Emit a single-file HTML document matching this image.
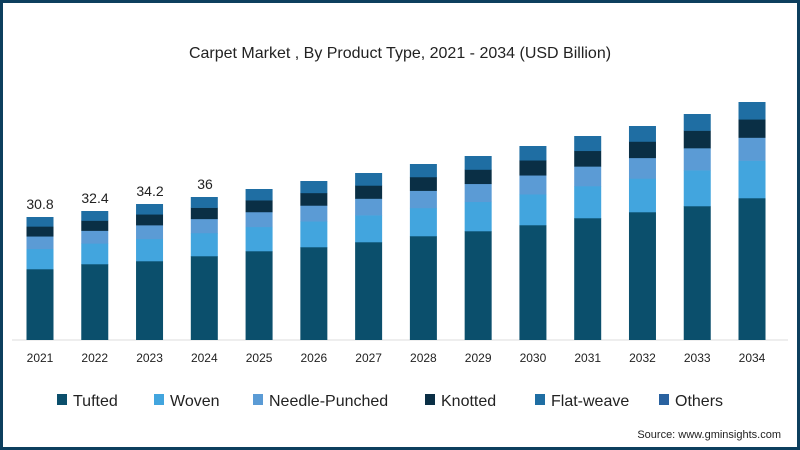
<!DOCTYPE html>
<html><head><meta charset="utf-8"><style>
body{margin:0;background:#fff}
#c{position:relative;width:800px;height:450px;box-sizing:border-box;border:3px solid #0d3f5e;overflow:hidden;font-family:"Liberation Sans",sans-serif}
</style></head><body><div id="c">
<svg width="800" height="450" style="position:absolute;left:-3px;top:-3px" font-family="Liberation Sans, sans-serif">
<text x="400" y="58" text-anchor="middle" font-size="16" fill="#222">Carpet Market , By Product Type, 2021 - 2034 (USD Billion)</text>
<line x1="12" y1="340" x2="788" y2="340" stroke="#ddd" stroke-width="1"/>
<g id="bars"></g>
<g font-size="12" fill="#222" text-anchor="middle" id="yrs"></g>
<g font-size="14" fill="#222" text-anchor="middle">
<text x="40" y="209">30.8</text><text x="95" y="203">32.4</text><text x="150" y="196">34.2</text><text x="205" y="189">36</text>
</g>
<g font-size="16" fill="#222">
<rect x="57" y="394" width="10" height="11" fill="#0b4f6c"/><text x="73" y="406">Tufted</text>
<rect x="154" y="394" width="10" height="11" fill="#42a5de"/><text x="170" y="406">Woven</text>
<rect x="253" y="394" width="10" height="11" fill="#5b9bd5"/><text x="269" y="406">Needle-Punched</text>
<rect x="425" y="394" width="10" height="11" fill="#0a2f45"/><text x="441" y="406">Knotted</text>
<rect x="535" y="394" width="10" height="11" fill="#1f6ea3"/><text x="551" y="406">Flat-weave</text>
<rect x="659" y="394" width="10" height="11" fill="#2a62a0"/><text x="675" y="406">Others</text>
</g>
<text x="781" y="438" text-anchor="end" font-size="11" fill="#222">Source: www.gminsights.com</text>
</svg>
<script>
var tops=[217,211,204,197,189,181,173,164,156,146,136,126,114,102];
var tt=[269,264,261,256,251,247,242,236,231,225,218,212,206,198];
var fr=[0.39,0.24,0.19,0.18];var cols=["#42a5de","#5b9bd5","#0a2f45","#1f6ea3"];
var s="",y="";
for(var i=0;i<14;i++){var cx=40+i*54.77,x=cx-13.5;
s+='<rect x="'+x+'" y="'+tt[i]+'" width="27" height="'+(340-tt[i])+'" fill="#0b4f6c"/>';
var R=tt[i]-tops[i],cur=tt[i];
for(var k=0;k<4;k++){var h=R*fr[k];cur-=h;s+='<rect x="'+x+'" y="'+cur+'" width="27" height="'+(h+0.3)+'" fill="'+cols[k]+'"/>';}
y+='<text x="'+cx+'" y="362">'+(2021+i)+'</text>';}
document.getElementById("bars").innerHTML=s;document.getElementById("yrs").innerHTML=y;
</script>
</div></body></html>
